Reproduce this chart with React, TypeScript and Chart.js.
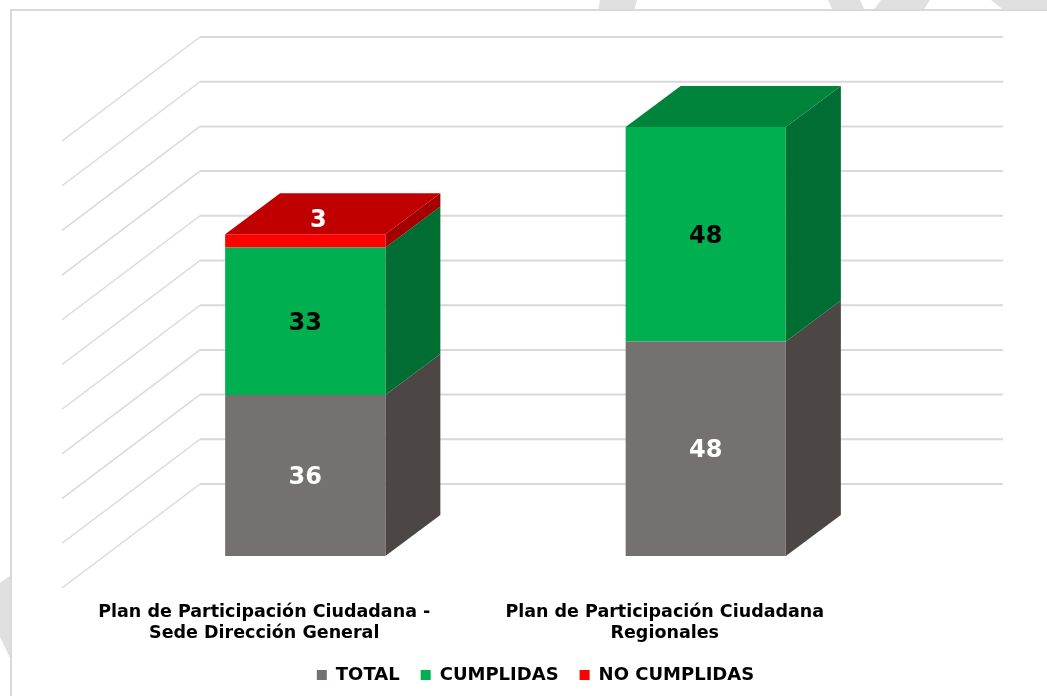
import React, { useEffect, useRef } from "react";
import { Chart, registerables } from "chart.js";

Chart.register(...registerables);

const categories = [
  ["Plan de Participación Ciudadana -", "Sede Dirección General"],
  ["Plan de Participación Ciudadana", "Regionales"],
];
const total = [36, 48];
const cumplidas = [33, 48];
const noCumplidas = [3, 0];
const seriesNames = ["TOTAL", "CUMPLIDAS", "NO CUMPLIDAS"];
const yTickStep = 10;
const yMax = 100;

const FONT = "'DejaVu Sans', Verdana, sans-serif";
const DEPTH_X = 55;
const DEPTH_Y = 41;
const FRONT = ["#767171", "#00b050", "#ff0000"];
const SIDE = ["#4c4745", "#006e32", "#a40000"];
const TOP = ["#5a5555", "#00843c", "#c00000"];
const LABEL = ["#ffffff", "#000000", "#ffffff"];
const BANDS = [
  [[600, 0], [637, 0], [634, 11], [598, 11]],
  [[828, 0], [860, 0], [865, 11], [833, 11]],
  [[881, 0], [930, 0], [923, 11], [873, 11]],
  [[991, 0], [1047, 0], [1047, 11], [1005, 11]],
  [[0, 583], [11, 575], [11, 660], [0, 637]],
];

const poly = (ctx: CanvasRenderingContext2D, pts: number[][], fill: string) => {
  ctx.beginPath();
  pts.forEach(([x, y], i) => (i ? ctx.lineTo(x, y) : ctx.moveTo(x, y)));
  ctx.closePath();
  ctx.fillStyle = fill;
  ctx.fill();
};

const scenery = {
  id: "scenery",
  beforeDraw(chart: any) {
    const ctx = chart.ctx as CanvasRenderingContext2D;
    ctx.save();
    ctx.fillStyle = "#ffffff";
    ctx.fillRect(0, 0, chart.width, chart.height);
    BANDS.forEach((b) => poly(ctx, b, "#e0e0e0"));
    ctx.fillStyle = "#ffffff";
    ctx.fillRect(11, 11, chart.width - 11, chart.height - 11);
    ctx.fillStyle = "#d9d9d9";
    ctx.fillRect(10, 9, chart.width - 10, 2);
    ctx.fillRect(10, 9, 2, chart.height - 9);
    ctx.restore();
  },
  beforeDatasetsDraw(chart: any) {
    const ctx = chart.ctx as CanvasRenderingContext2D;
    const y = chart.scales.y;
    const backLeft = chart.chartArea.left + 95;
    const backRight = chart.chartArea.right + 97;
    ctx.save();
    ctx.strokeStyle = "#d9d9d9";
    y.ticks.forEach((t: any) => {
      const py = y.getPixelForValue(t.value) - 72;
      ctx.lineWidth = 2;
      ctx.beginPath();
      ctx.moveTo(backLeft, py);
      ctx.lineTo(backRight, py);
      ctx.stroke();
      ctx.lineWidth = 1.4;
      ctx.beginPath();
      ctx.moveTo(backLeft, py);
      ctx.lineTo(backLeft - 138, py + 104);
      ctx.stroke();
    });
    // 3D faces of the bars, from the library's own bar elements
    const metas = chart.data.datasets.map((_: any, i: number) => chart.getDatasetMeta(i));
    categories.forEach((_, c) => {
      let topDs = -1;
      metas.forEach((m: any, d: number) => {
        const raw = chart.data.datasets[d].data[c];
        if (!raw) return;
        topDs = d;
        const el = m.data[c];
        const r = el.x + el.width / 2;
        poly(ctx, [[r, el.y], [r, el.base], [r + DEPTH_X, el.base - DEPTH_Y], [r + DEPTH_X, el.y - DEPTH_Y]], SIDE[d]);
      });
      const el = metas[topDs].data[c];
      const l = el.x - el.width / 2;
      const r = el.x + el.width / 2;
      poly(ctx, [[l, el.y], [r, el.y], [r + DEPTH_X, el.y - DEPTH_Y], [l + DEPTH_X, el.y - DEPTH_Y]], TOP[topDs]);
    });
    ctx.restore();
  },
  afterDatasetsDraw(chart: any) {
    const ctx = chart.ctx as CanvasRenderingContext2D;
    ctx.save();
    ctx.font = `bold 24px ${FONT}`;
    ctx.textAlign = "center";
    ctx.textBaseline = "middle";
    chart.data.datasets.forEach((ds: any, d: number) => {
      chart.getDatasetMeta(d).data.forEach((el: any, c: number) => {
        const v = ds.data[c];
        if (!v) return;
        const small = el.base - el.y < 30;
        ctx.fillStyle = LABEL[d];
        ctx.fillText(String(v), el.x + (small ? 13 : 0), (el.y + el.base) / 2 + (small ? -20 : 2.5));
      });
    });
    ctx.restore();
  },
};

export default function App() {
  const ref = useRef<HTMLCanvasElement>(null);
  useEffect(() => {
    const chart = new Chart(ref.current as HTMLCanvasElement, {
      type: "bar",
      data: {
        labels: categories as any,
        datasets: [total, cumplidas, noCumplidas].map((data, i) => ({
          label: seriesNames[i],
          data,
          backgroundColor: FRONT[i],
          borderWidth: 0,
          barPercentage: 0.4,
          categoryPercentage: 1,
        })),
      },
      options: {
        responsive: false,
        animation: false,
        devicePixelRatio: 1,
        layout: { padding: { left: 24, right: 0, top: 109, bottom: 2 } },
        scales: {
          x: {
            stacked: true,
            grid: { display: false },
            border: { display: false },
            ticks: {
              autoSkip: false,
              maxRotation: 0,
              minRotation: 0,
              padding: 38,
              labelOffset: -41,
              color: "#000000",
              font: { family: FONT, weight: "bold", size: 17.5 },
            },
            afterFit: (s: any) => {
              s.height = 89;
            },
          },
          y: {
            stacked: true,
            min: 0,
            max: yMax,
            ticks: { stepSize: yTickStep, display: false },
            grid: { display: false },
            border: { display: false },
            afterFit: (s: any) => {
              s.width = 81;
            },
          },
          y2: {
            position: "right",
            min: 0,
            max: yMax,
            ticks: { display: false },
            grid: { display: false },
            border: { display: false },
            afterFit: (s: any) => {
              s.width = 141;
            },
          },
        },
        plugins: {
          title: { display: false },
          tooltip: { enabled: false },
          legend: {
            position: "bottom",
            labels: {
              boxWidth: 10,
              boxHeight: 10,
              padding: 21,
              color: "#000000",
              font: { family: FONT, weight: "bold", size: 18 },
            },
          },
        },
      } as any,
      plugins: [scenery],
    });
    return () => chart.destroy();
  }, []);
  return (
    <div style={{ position: "fixed", left: 0, top: 0, width: 1047, height: 696, background: "#fff" }}>
      <canvas ref={ref} width={1047} height={696} style={{ display: "block" }} />
    </div>
  );
}
